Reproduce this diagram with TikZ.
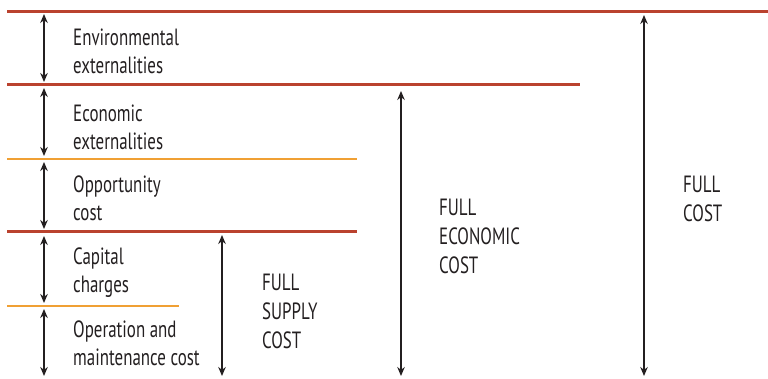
\documentclass[tikz,border=0pt]{standalone}
\usepackage{fontspec}
\setmainfont[FakeStretch=0.72]{PT Sans}
\usepackage{xcolor}
\usepackage{tikz}
\usetikzlibrary{arrows.meta, positioning}
\definecolor{myrust}{RGB}{186,66,46}
\definecolor{myorange}{RGB}{240,160,52}
\definecolor{mydark}{RGB}{35,31,32}
\tikzset{
  redrule/.style={line width=3pt, color=myrust},
  orangerule/.style={line width=1.8pt, color=myorange},
  span/.style={{Stealth[length=9pt,width=7.5pt]}-{Stealth[length=9pt,width=7.5pt]}, line width=1.2pt, color=mydark},
  label/.style={anchor=west, align=left, inner sep=0pt, text=mydark,
    font=\fontsize{23.5}{28}\selectfont},
  total/.style={anchor=west, align=left, inner sep=0pt, text=mydark,
    font=\fontsize{23.5}{29}\selectfont}
}

\begin{document}
\begin{tikzpicture}[x=1pt, y=-1pt]
  \useasboundingbox (0,0) rectangle (768,379);
  % horizontal rules
  \coordinate (r1) at (7,12);
  \coordinate (r2) at (7,85);
  \coordinate (o1) at (7,159);
  \coordinate (r3) at (7,232);
  \coordinate (o2) at (7,306);
  \draw[redrule] (r1) -- (768,12);
  \draw[redrule] (r2) -- (580,85);
  \draw[orangerule] (o1) -- (357,159);
  \draw[redrule] (r3) -- (357,232);
  \draw[orangerule] (o2) -- (179,306);
  % component spans
  \foreach \a/\b/\n in {14/82/1, 88/156/2, 162/229/3, 236/303/4, 309/376/5}{
    \coordinate (s\n a) at (44,\a);
    \coordinate (s\n b) at (44,\b);
    \draw[span] (s\n a) -- (s\n b);
  }
  \node[label] (env) at (73,51) {Environmental\\externalities};
  \node[label] (eco) at (73,127) {Economic\\externalities};
  \node[label] (opp) at (73,198) {Opportunity\\cost};
  \node[label] (cap) at (73,273) {Capital\\charges};
  \node[label] (om) at (73,343) {Operation and\\maintenance cost};
  % totals
  \coordinate (fsa) at (222,235);
  \coordinate (fsb) at (222,376);
  \coordinate (fea) at (401,91);
  \coordinate (feb) at (401,376);
  \coordinate (fca) at (644,15);
  \coordinate (fcb) at (644,376);
  \draw[span] (fsa) -- (fsb);
  \draw[span] (fea) -- (feb);
  \draw[span] (fca) -- (fcb);
  \node[total] (fs) at (262,311) {FULL\\SUPPLY\\COST};
  \node[total] (fe) at (439,236) {FULL\\ECONOMIC\\COST};
  \node[total] (fc) at (683,199) {FULL\\COST};
\end{tikzpicture}
\end{document}
